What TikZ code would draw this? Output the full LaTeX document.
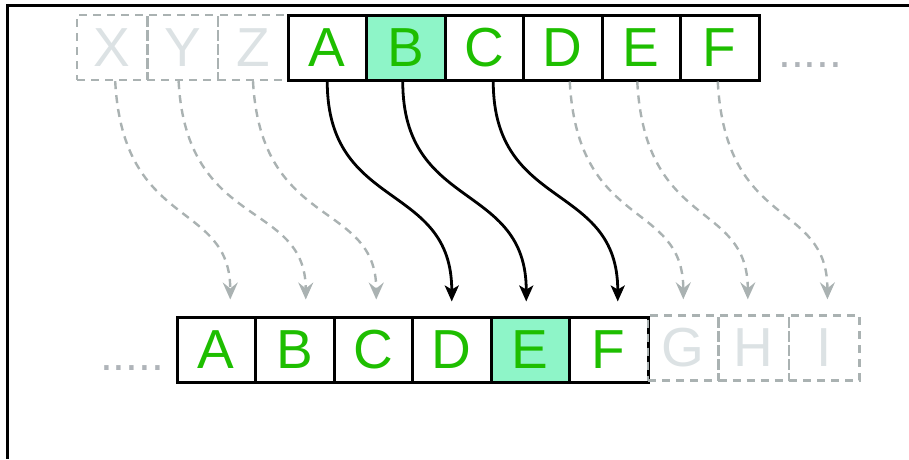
\documentclass[tikz,border=0pt]{standalone}
\usepackage{fontspec}
\setmainfont{Liberation Sans}
\usetikzlibrary{arrows.meta}
\definecolor{lgreen}{RGB}{30,190,0}
\definecolor{hifill}{RGB}{142,245,200}
\definecolor{dgray}{RGB}{170,178,178}
\definecolor{ghostc}{RGB}{220,226,228}
\definecolor{dotc}{RGB}{175,180,185}
\tikzset{
  cell/.style={draw=black, line width=3pt, minimum width=78.5pt, minimum height=65pt,
    inner sep=0pt, text=lgreen, font=\fontsize{55}{55}\selectfont},
  ghost/.style={draw=dgray, line width=2.4pt, dash pattern=on 8pt off 6pt,
    minimum width=70.4pt, minimum height=65pt, inner sep=0pt, text=ghostc,
    font=\fontsize{55}{55}\selectfont},
  arr/.style={draw=black, line width=2.8pt, -{Stealth[length=16pt,width=14pt,inset=4pt]}},
  garr/.style={draw=dgray, line width=2.4pt, dash pattern=on 8pt off 6pt,
    -{Stealth[length=17pt,width=15pt,inset=6pt]}},
  dots/.style={text=dotc, font=\fontsize{46}{46}\selectfont, inner sep=0pt},
  frame/.style={draw=black, line width=3pt}
}
\begin{document}
\begin{tikzpicture}[x=1pt,y=-1pt]
\useasboundingbox (0,0) rectangle (909,459);
\draw[frame] (909,5) -- (7,5) -- (7,459);

% top row
\node[ghost] (tX) at (112.2,47.5) {X};
\node[ghost] (tY) at (182.6,47.5) {Y};
\node[ghost] (tZ) at (253.0,47.5) {Z};
\node[cell] (tA) at (327.25,47.5) {A};
\node[cell,fill=hifill] (tB) at (405.75,47.5) {B};
\node[cell] (tC) at (484.25,47.5) {C};
\node[cell] (tD) at (562.75,47.5) {D};
\node[cell] (tE) at (641.25,47.5) {E};
\node[cell] (tF) at (719.75,47.5) {F};
\node[dots,anchor=base west] (tdots) at (778,67) {.....};

% bottom row
\node[dots,anchor=base west] (bdots) at (100,370) {.....};
\node[cell] (bA) at (216.25,349.5) {A};
\node[cell] (bB) at (294.75,349.5) {B};
\node[cell] (bC) at (373.25,349.5) {C};
\node[cell] (bD) at (451.75,349.5) {D};
\node[cell,fill=hifill] (bE) at (530.25,349.5) {E};
\node[cell] (bF) at (608.75,349.5) {F};
\node[ghost] (bG) at (683.3,348) {G};
\node[ghost] (bH) at (753.8,348) {H};
\node[ghost] (bI) at (824.4,348) {I};

% black arrows
\draw[arr] ([xshift=0pt]tA.south) .. controls +(0,130) and +(0,-120) .. ([xshift=0pt,yshift=14pt]bD.north);
\draw[arr] ([xshift=-3pt]tB.south) .. controls +(0,130) and +(0,-120) .. ([xshift=-4pt,yshift=14pt]bE.north);
\draw[arr] ([xshift=9pt]tC.south) .. controls +(0,130) and +(0,-120) .. ([xshift=9pt,yshift=14pt]bF.north);

% gray dashed arrows
\draw[garr] ([xshift=3pt]tX.south) .. controls +(8,150) and +(0,-100) .. ([xshift=14pt,yshift=16pt]bA.north);
\draw[garr] ([xshift=-4pt]tY.south) .. controls +(8,150) and +(0,-100) .. ([xshift=11pt,yshift=16pt]bB.north);
\draw[garr] ([xshift=0pt]tZ.south) .. controls +(8,150) and +(0,-100) .. ([xshift=3pt,yshift=16pt]bC.north);
\draw[garr] ([xshift=7pt]tD.south) .. controls +(8,150) and +(0,-100) .. ([xshift=0pt,yshift=15pt]bG.north);
\draw[garr] ([xshift=-4pt]tE.south) .. controls +(8,150) and +(0,-100) .. ([xshift=-6pt,yshift=15pt]bH.north);
\draw[garr] ([xshift=-2pt]tF.south) .. controls +(8,150) and +(0,-100) .. ([xshift=3pt,yshift=15pt]bI.north);
\end{tikzpicture}
\end{document}
